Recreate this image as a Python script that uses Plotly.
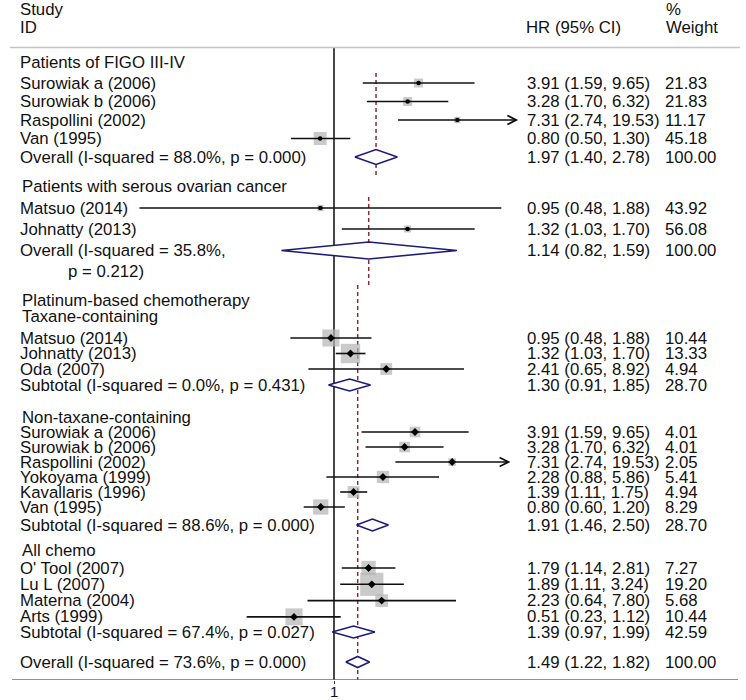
import math
import plotly.graph_objects as go

# ---------------- data ----------------
figo_studies = ["Surowiak a (2006)", "Surowiak b (2006)", "Raspollini (2002)", "Van (1995)"]
figo_hr = [3.91, 3.28, 7.31, 0.80]
figo_lo = [1.59, 1.70, 2.74, 0.50]
figo_hi = [9.65, 6.32, 19.53, 1.30]
figo_w = [21.83, 21.83, 11.17, 45.18]
figo_pool = [1.97, 1.40, 2.78]
figo_pool_w = 100.00
figo_pool_label = "Overall (I-squared = 88.0%, p = 0.000)"

serous_studies = ["Matsuo (2014)", "Johnatty (2013)"]
serous_hr = [0.95, 1.32]
serous_lo = [0.48, 1.03]
serous_hi = [1.88, 1.70]
serous_w = [43.92, 56.08]
serous_pool = [1.14, 0.82, 1.59]
serous_pool_w = 100.00
serous_pool_label = ["Overall (I-squared = 35.8%,", "p = 0.212)"]

tax_studies = ["Matsuo (2014)", "Johnatty (2013)", "Oda (2007)"]
tax_hr = [0.95, 1.32, 2.41]
tax_lo = [0.48, 1.03, 0.65]
tax_hi = [1.88, 1.70, 8.92]
tax_w = [10.44, 13.33, 4.94]
tax_pool = [1.30, 0.91, 1.85]
tax_pool_w = 28.70
tax_pool_label = "Subtotal (I-squared = 0.0%, p = 0.431)"

nontax_studies = ["Surowiak a (2006)", "Surowiak b (2006)", "Raspollini (2002)",
                  "Yokoyama (1999)", "Kavallaris (1996)", "Van (1995)"]
nontax_hr = [3.91, 3.28, 7.31, 2.28, 1.39, 0.80]
nontax_lo = [1.59, 1.70, 2.74, 0.88, 1.11, 0.60]
nontax_hi = [9.65, 6.32, 19.53, 5.86, 1.75, 1.20]
nontax_w = [4.01, 4.01, 2.05, 5.41, 4.94, 8.29]
nontax_pool = [1.91, 1.46, 2.50]
nontax_pool_w = 28.70
nontax_pool_label = "Subtotal (I-squared = 88.6%, p = 0.000)"

all_studies = ["O' Tool (2007)", "Lu L (2007)", "Materna (2004)", "Arts (1999)"]
all_hr = [1.79, 1.89, 2.23, 0.51]
all_lo = [1.14, 1.11, 0.64, 0.23]
all_hi = [2.81, 3.24, 7.80, 1.12]
all_w = [7.27, 19.20, 5.68, 10.44]
all_pool = [1.39, 0.97, 1.99]
all_pool_w = 42.59
all_pool_label = "Subtotal (I-squared = 67.4%, p = 0.027)"

overall_pool = [1.49, 1.22, 1.82]
overall_pool_w = 100.00
overall_pool_label = "Overall (I-squared = 73.6%, p = 0.000)"

header_labels = ["Patients of FIGO III-IV", "Patients with serous ovarian cancer",
                 "Platinum-based chemotherapy", "Taxane-containing",
                 "Non-taxane-containing", "All chemo"]
x_tick_vals = [1]
x_tick_text = ["1"]

# ---------------- styling / layout ----------------
W, H = 746, 700
BOTTOM = 680                 # pixel of the plot's bottom rule
NULL_PX = 334                # pixel of HR = 1
FONT = "Liberation Sans, Arial, sans-serif"
FS = 16.8
TXT = "#111111"
NAVY = "#1c1c78"
RED = "#8e2a32"
GRAY_SQ = "#b4b4b4"
ARROW_CUT = 12  # CIs beyond this get an arrow head
COL_LABEL = 18
COL_HR = 525
COL_W = 663

# pixels per natural-log unit for each stitched panel
axis_scale = {"x": 59.4, "x2": 62.0, "x3": 265.0}


def axis_range(s):
    per_dec = s * math.log(10)
    return [-NULL_PX / per_dec, (W - NULL_PX) / per_dec]


def px(xpix):
    return xpix / W


fig = go.Figure()
annotations = []
shapes = []


def text(xpix, y, s, anchor="left", size=FS):
    annotations.append(dict(x=px(xpix), xref="paper", y=y, yref="y", text=s,
                            showarrow=False, xanchor=anchor, yanchor="middle",
                            font=dict(family=FONT, size=size, color=TXT)))


def hr_text(est, lo, hi):
    return f"{est:.2f} ({lo:.2f}, {hi:.2f})"


def add_studies(axis, names, hr, lo, hi, w, y0, pitch, sq_k, dot_sym, dot_size):
    ys = [y0 + i * pitch for i in range(len(names))]
    for n, e, l, h, wt, y in zip(names, hr, lo, hi, w, ys):
        text(COL_LABEL, y, n)
        text(COL_HR, y, hr_text(e, l, h))
        text(COL_W, y, f"{wt:.2f}")
    fig.add_trace(go.Scatter(x=hr, y=ys, mode="markers", xaxis=axis, yaxis="y",
                             marker=dict(symbol="square", color=GRAY_SQ,
                                         size=[sq_k * math.sqrt(v) for v in w],
                                         line=dict(width=0)),
                             hoverinfo="skip", showlegend=False))
    for e, l, h, y in zip(hr, lo, hi, ys):
        if h > ARROW_CUT:
            annotations.append(dict(x=math.log10(h), y=y, xref=axis, yref="y",
                                    ax=math.log10(l), ay=y, axref=axis, ayref="y",
                                    text="", showarrow=True, arrowhead=5,
                                    arrowsize=1.1, arrowwidth=1.6, arrowcolor=TXT))
        else:
            fig.add_trace(go.Scatter(x=[l, h], y=[y, y], mode="lines", xaxis=axis,
                                     yaxis="y", line=dict(color=TXT, width=1.6),
                                     hoverinfo="skip", showlegend=False))
    fig.add_trace(go.Scatter(x=hr, y=ys, mode="markers", xaxis=axis, yaxis="y",
                             marker=dict(symbol=dot_sym, color="black", size=dot_size),
                             hoverinfo="skip", showlegend=False))


def add_pool(axis, pool, wt, label, y, half):
    e, l, h = pool
    fig.add_trace(go.Scatter(x=[l, e, h, e, l], y=[y, y - half, y, y + half, y],
                             mode="lines", fill="toself", fillcolor="white",
                             xaxis=axis, yaxis="y",
                             line=dict(color=NAVY, width=1.6),
                             hoverinfo="skip", showlegend=False))
    if isinstance(label, list):
        text(COL_LABEL, y, label[0])
        text(66, y + 21, label[1])
    else:
        text(COL_LABEL, y, label)
    text(COL_HR, y, hr_text(e, l, h))
    text(COL_W, y, f"{wt:.2f}")


def ref_line(axis, v, y0, y1):
    fig.add_trace(go.Scatter(x=[v, v], y=[y0, y1], mode="lines", xaxis=axis, yaxis="y",
                             line=dict(color=RED, width=1.5, dash="4px,3px"),
                             hoverinfo="skip", showlegend=False))


# null line
fig.add_trace(go.Scatter(x=[1, 1], y=[48, BOTTOM], mode="lines", xaxis="x", yaxis="y",
                         line=dict(color="#1a1a1a", width=1.6),
                         hoverinfo="skip", showlegend=False))

# pooled-estimate reference lines
ref_line("x2", figo_pool[0], 73, 175)
ref_line("x3", serous_pool[0], 197, 285)
ref_line("x", overall_pool[0], 285, BOTTOM)

# panel 1: FIGO III-IV
text(COL_LABEL, 62, header_labels[0])
add_studies("x2", figo_studies, figo_hr, figo_lo, figo_hi, figo_w, 83, 18.5, 1.93, "circle", 4.5)
add_pool("x2", figo_pool, figo_pool_w, figo_pool_label, 157, 7.5)

# panel 2: serous
text(20, 186, header_labels[1])
add_studies("x3", serous_studies, serous_hr, serous_lo, serous_hi, serous_w, 208, 21, 0.93, "circle", 4.5)
add_pool("x3", serous_pool, serous_pool_w, serous_pool_label, 250.5, 8.5)

# panel 3: chemotherapy
text(20, 300, header_labels[2])
text(20, 316, header_labels[3])
add_studies("x", tax_studies, tax_hr, tax_lo, tax_hi, tax_w, 338, 15.5, 5.3, "diamond", 6)
add_pool("x", tax_pool, tax_pool_w, tax_pool_label, 385, 6)

text(20, 417, header_labels[4])
add_studies("x", nontax_studies, nontax_hr, nontax_lo, nontax_hi, nontax_w, 432, 15, 5.3, "diamond", 6)
add_pool("x", nontax_pool, nontax_pool_w, nontax_pool_label, 525, 6)

text(20, 550, header_labels[5])
add_studies("x", all_studies, all_hr, all_lo, all_hi, all_w, 568, 16.3, 5.3, "diamond", 6)
add_pool("x", all_pool, all_pool_w, all_pool_label, 632, 6)

add_pool("x", overall_pool, overall_pool_w, overall_pool_label, 662, 5.5)

# column headers
text(18, 9, "Study")
text(18, 27, "ID")
text(524, 27, "HR (95% CI)")
text(664, 9, "%")
text(664, 27, "Weight")

# x-axis tick label(s), placed just under the bottom rule (paper coords)
per_dec_main = axis_scale["x"] * math.log(10)
for tv, tt in zip(x_tick_vals, x_tick_text):
    annotations.append(dict(x=(NULL_PX + math.log10(tv) * per_dec_main) / W, xref="paper",
                            y=(BOTTOM - 691) / BOTTOM, yref="paper", text=tt,
                            showarrow=False, xanchor="center", yanchor="middle",
                            font=dict(family=FONT, size=15, color=TXT)))

# rules
shapes.append(dict(type="line", xref="paper", yref="y", x0=px(10), x1=px(740), y0=47.5, y1=47.5,
                   line=dict(color="#c4c4c4", width=1.5)))
shapes.append(dict(type="line", xref="paper", yref="y", x0=px(12), x1=px(738), y0=BOTTOM, y1=BOTTOM,
                   line=dict(color="#6e6e6e", width=1.5)))

fig.update_layout(
    width=W, height=H,
    margin=dict(l=0, r=0, t=0, b=H - BOTTOM, pad=0),
    paper_bgcolor="white", plot_bgcolor="white",
    showlegend=False,
    annotations=annotations, shapes=shapes,
    xaxis=dict(type="log", range=axis_range(axis_scale["x"]), tickvals=x_tick_vals,
               ticktext=x_tick_text, ticks="outside", ticklen=3, tickcolor="#333",
               showticklabels=False,
               showgrid=False, zeroline=False, showline=False, automargin=False),
    xaxis2=dict(type="log", range=axis_range(axis_scale["x2"]), overlaying="x",
                visible=False, automargin=False),
    xaxis3=dict(type="log", range=axis_range(axis_scale["x3"]), overlaying="x",
                visible=False, automargin=False),
    yaxis=dict(range=[BOTTOM, 0], visible=False, showgrid=False, zeroline=False,
               automargin=False),
)

fig.write_html("out.html", config={"displayModeBar": False},
               post_script="document.body.style.margin='0';document.body.style.padding='0';")
